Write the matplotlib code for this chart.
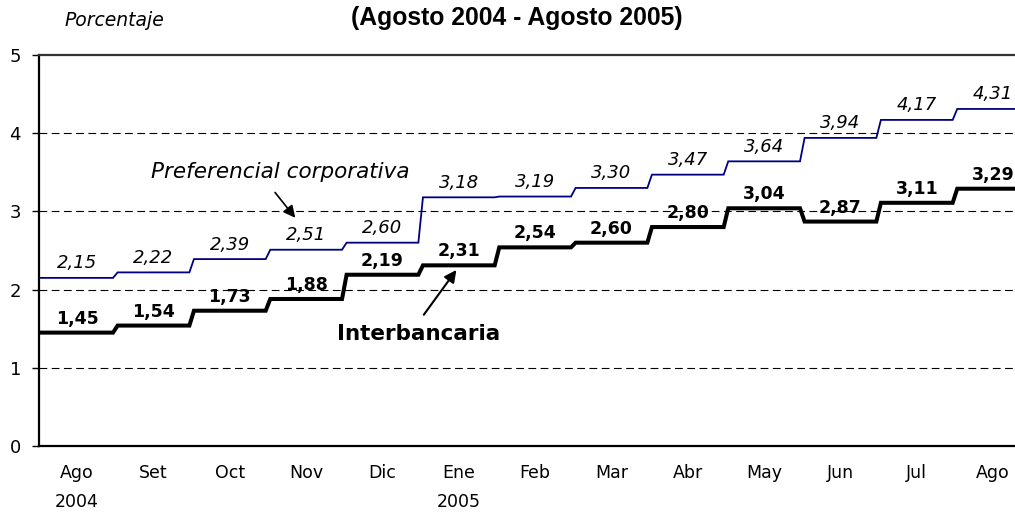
import numpy as np
import matplotlib
matplotlib.use("Agg")
import matplotlib.pyplot as plt

# --- data --- #
meses = ['Ago\n2004', 'Set', 'Oct', 'Nov', 'Dic', 'Ene\n2005', 'Feb', 'Mar',
         'Abr', 'May', 'Jun', 'Jul', 'Ago']
preferencial = [2.15, 2.22, 2.39, 2.51, 2.60, 3.18, 3.19, 3.30, 3.47, 3.64, 3.94, 4.17, 4.31]
interbancaria = [1.45, 1.54, 1.73, 1.88, 2.19, 2.31, 2.54, 2.60, 2.80, 3.04, 2.87, 3.11, 3.29]


def step_line(values, ramp=0.03):
    """monthly levels as a line with short ramps between months"""
    x, y = [], []
    n = len(values)
    for i, v in enumerate(values):
        x0 = i + ramp if i > 0 else i
        x1 = i + 1 - ramp if i < n - 1 else i + 1
        x += [x0, x1]
        y += [v, v]
    return np.array(x), np.array(y)


def fmt(v):
    return ('%.2f' % v).replace('.', ',')


fig = plt.figure(figsize=(10.15, 5.17), dpi=100)
ax = fig.add_axes([39 / 1015, 71 / 517, 1 - 39 / 1015, 391 / 517])

xp, yp = step_line(preferencial)
xi, yi = step_line(interbancaria)
ax.plot(xp, yp, color='#000080', lw=1.3, solid_joinstyle='miter', zorder=3)
ax.plot(xi, yi, color='black', lw=2.9, solid_joinstyle='miter', zorder=3)

for i, v in enumerate(preferencial):
    ax.annotate(fmt(v), (i + 0.5, v), xytext=(0, 10.5), textcoords='offset points',
                ha='center', va='center', fontsize=13, style='italic', zorder=4)
for i, v in enumerate(interbancaria):
    ax.annotate(fmt(v), (i + 0.5, v), xytext=(0, 10), textcoords='offset points',
                ha='center', va='center', fontsize=12.5, fontweight='bold', zorder=4)

# series names with arrows
ax.annotate('', xy=(3.38, 2.89), xytext=(3.07, 3.27),
            arrowprops=dict(arrowstyle='-|>', color='black', lw=1.2, mutation_scale=18))
ax.text(3.16, 3.50, 'Preferencial corporativa', ha='center', va='center',
        fontsize=15.5, style='italic')
ax.annotate('', xy=(5.49, 2.28), xytext=(5.02, 1.65),
            arrowprops=dict(arrowstyle='-|>', color='black', lw=1.5, mutation_scale=18))
ax.text(4.97, 1.43, 'Interbancaria', ha='center', va='center',
        fontsize=15.5, fontweight='bold')

# axes
ax.set_xlim(0, 976 / 76.33)
ax.set_ylim(0, 5)
ax.set_yticks([0, 1, 2, 3, 4, 5])
ax.set_xticks(np.arange(len(meses)) + 0.5)
ax.set_xticklabels(meses, fontsize=12.5, linespacing=1.75, va='top')
ax.tick_params(axis='x', length=0, pad=13)
ax.tick_params(axis='y', length=5, width=1, direction='out', labelsize=13, pad=8)
for yv in [1, 2, 3, 4]:
    ax.axhline(yv, color='black', lw=0.8, linestyle=(0, (7, 4)), zorder=1)
ax.spines['right'].set_visible(False)
ax.spines['left'].set_linewidth(1.6)
ax.spines['bottom'].set_linewidth(1.6)
ax.spines['top'].set_linewidth(1.6)
ax.spines['top'].set_color('#333333')

fig.text(0.113, 0.961, 'Porcentaje', ha='center', va='center', fontsize=13.5, style='italic')
fig.text(0.509, 0.965, '(Agosto 2004 - Agosto 2005)', ha='center', va='center',
         fontsize=17.8, fontweight='bold', family='Liberation Sans')

fig.savefig('out.png', dpi=100)
